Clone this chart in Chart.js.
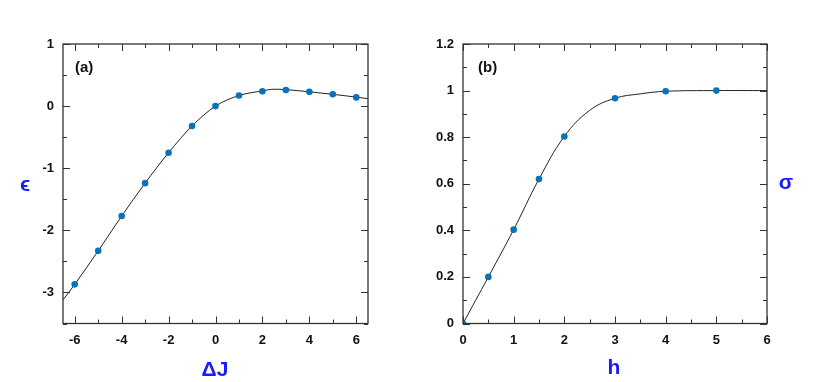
<!DOCTYPE html>
<html>
<head>
<meta charset="utf-8">
<script src="https://cdn.jsdelivr.net/npm/chart.js@4/dist/chart.umd.min.js"></script>
<style>
  body { margin: 0; background: #fff; }
  .box { position: absolute; top: 0; width: 415px; height: 382px; }
</style>
</head>
<body>
<div class="box" style="left:0"><canvas id="chartA"></canvas></div>
<div class="box" style="left:415px"><canvas id="chartB"></canvas></div>
<script>
// panel (a): epsilon vs Delta J
var dJ = [-6, -5, -4, -3, -2, -1, 0, 1, 2, 3, 4, 5, 6];
var eps = [-2.87, -2.33, -1.77, -1.24, -0.75, -0.32, 0, 0.17, 0.24, 0.26, 0.23, 0.19, 0.14];
var fitX_a = [-6.5, -6, -5, -4, -3, -2, -1, 0, 1, 2, 2.5, 3, 4, 5, 6, 6.5];
var fitY_a = [-3.12, -2.87, -2.33, -1.77, -1.24, -0.75, -0.32, 0, 0.17, 0.245, 0.272, 0.265, 0.23, 0.19, 0.145, 0.12];
var xTicksA = [-6, -4, -2, 0, 2, 4, 6];
var xMinorA = [-5, -3, -1, 1, 3, 5];
var yTicksA = [1, 0, -1, -2, -3];
var yMinorA = [0.5, -0.5, -1.5, -2.5, -3.5];

// panel (b): sigma vs h
var hVals = [0, 0.5, 1, 1.5, 2, 3, 4, 5];
var sigma = [0, 0.2, 0.403, 0.62, 0.803, 0.967, 0.997, 1.0];
var fitX_b = [0, 0.5, 1, 1.5, 2, 2.5, 3, 3.5, 4, 5, 6];
var fitY_b = [0, 0.2, 0.403, 0.62, 0.803, 0.915, 0.967, 0.986, 0.997, 1.0, 1.0];
var xTicksB = [0, 1, 2, 3, 4, 5, 6];
var xMinorB = [0.5, 1.5, 2.5, 3.5, 4.5, 5.5];
var yTicksB = [0, 0.2, 0.4, 0.6, 0.8, 1, 1.2];
var yMinorB = [0.1, 0.3, 0.5, 0.7, 0.9, 1.1];

Chart.defaults.font.family = '"Liberation Sans", Arial, sans-serif';
Chart.defaults.font.weight = 'bold';
Chart.defaults.font.size = 13;
Chart.defaults.color = '#111';

var dotColor = '#0a72ba';
var titleBlue = '#1a1aff';

function pairs(xs, ys) {
  return xs.map(function(x, i) { return {x: x, y: ys[i]}; });
}

// frame, inward ticks and the text labels
var framePlugin = {
  id: 'frame',
  afterDraw: function(chart, args, opts) {
    var ctx = chart.ctx, a = chart.chartArea;
    var xs = chart.scales.x, ys = chart.scales.y;
    ctx.save();
    ctx.strokeStyle = '#333';
    ctx.lineWidth = 1.3;
    ctx.strokeRect(a.left, a.top, a.right - a.left, a.bottom - a.top);
    ctx.lineWidth = 1;
    ctx.beginPath();
    function xt(v, len) {
      var p = Math.round(xs.getPixelForValue(v)) + 0.5;
      ctx.moveTo(p, a.bottom); ctx.lineTo(p, a.bottom - len);
      ctx.moveTo(p, a.top); ctx.lineTo(p, a.top + len);
    }
    function yt(v, len) {
      var p = Math.round(ys.getPixelForValue(v)) + 0.5;
      ctx.moveTo(a.left, p); ctx.lineTo(a.left + len, p);
      ctx.moveTo(a.right, p); ctx.lineTo(a.right - len, p);
    }
    opts.xMajor.forEach(function(v) { xt(v, 7); });
    opts.xMinor.forEach(function(v) { xt(v, 4); });
    opts.yMajor.forEach(function(v) { yt(v, 7); });
    opts.yMinor.forEach(function(v) { yt(v, 4); });
    ctx.stroke();

    ctx.fillStyle = '#111';
    ctx.font = 'bold 15px "Liberation Sans", Arial';
    ctx.textAlign = 'left';
    ctx.textBaseline = 'middle';
    ctx.fillText(opts.tag, a.left + opts.tagDx, 68);

    ctx.fillStyle = titleBlue;
    ctx.font = 'bold 21px "Liberation Sans", "DejaVu Sans", Arial';
    ctx.textAlign = 'center';
    ctx.fillText(opts.xTitle, opts.xTitlePos[0], opts.xTitlePos[1]);
    ctx.fillText(opts.yTitle, opts.yTitlePos[0], opts.yTitlePos[1]);
    ctx.restore();
  }
};

function makeChart(id, pts, fit, interp, xr, yr, yWidth, rightPad, xTickVals, yTickVals, frameOpts) {
  return new Chart(document.getElementById(id), {
    type: 'scatter',
    data: {
      datasets: [{
        data: fit,
        showLine: true,
        borderColor: '#222',
        borderWidth: 1,
        pointRadius: 0,
        tension: 0.4,
        cubicInterpolationMode: interp,
        order: 2
      }, {
        data: pts,
        backgroundColor: dotColor,
        borderWidth: 0,
        pointRadius: 3.3,
        order: 1
      }]
    },
    options: {
      responsive: true,
      maintainAspectRatio: false,
      animation: false,
      layout: { padding: { top: 44, right: rightPad, bottom: 0, left: 0 } },
      plugins: { legend: { display: false }, tooltip: { enabled: false }, frame: frameOpts },
      scales: {
        x: {
          type: 'linear', min: xr[0], max: xr[1],
          grid: { drawOnChartArea: false, drawTicks: false },
          border: { display: false },
          ticks: { padding: 9, maxRotation: 0, callback: function(v) { return String(v); } },
          afterBuildTicks: function(s) { s.ticks = xTickVals.map(function(v) { return {value: v}; }); },
          afterFit: function(s) { s.height = 58.5; }
        },
        y: {
          type: 'linear', min: yr[0], max: yr[1],
          grid: { drawOnChartArea: false, drawTicks: false },
          border: { display: false },
          ticks: { padding: 9, callback: function(v) { return String(v); } },
          afterBuildTicks: function(s) { s.ticks = yTickVals.map(function(v) { return {value: v}; }); },
          afterFit: function(s) { s.width = yWidth; }
        }
      }
    },
    plugins: [framePlugin]
  });
}

makeChart('chartA', pairs(dJ, eps), pairs(fitX_a, fitY_a), 'monotone', [-6.5, 6.5], [-3.5, 1], 63, 47,
  xTicksA, yTicksA, {
    xMajor: xTicksA, xMinor: xMinorA, yMajor: yTicksA, yMinor: yMinorA,
    tag: '(a)', tagDx: 12, xTitle: 'ΔJ', xTitlePos: [215, 370], yTitle: 'ϵ', yTitlePos: [25, 185]
  });

makeChart('chartB', pairs(hVals, sigma), pairs(fitX_b, fitY_b), 'default', [0, 6], [0, 1.2], 48, 63,
  xTicksB, yTicksB, {
    xMajor: xTicksB, xMinor: xMinorB, yMajor: yTicksB, yMinor: yMinorB,
    tag: '(b)', tagDx: 15, xTitle: 'h', xTitlePos: [199, 368], yTitle: 'σ', yTitlePos: [371, 183]
  });
</script>
</body>
</html>
